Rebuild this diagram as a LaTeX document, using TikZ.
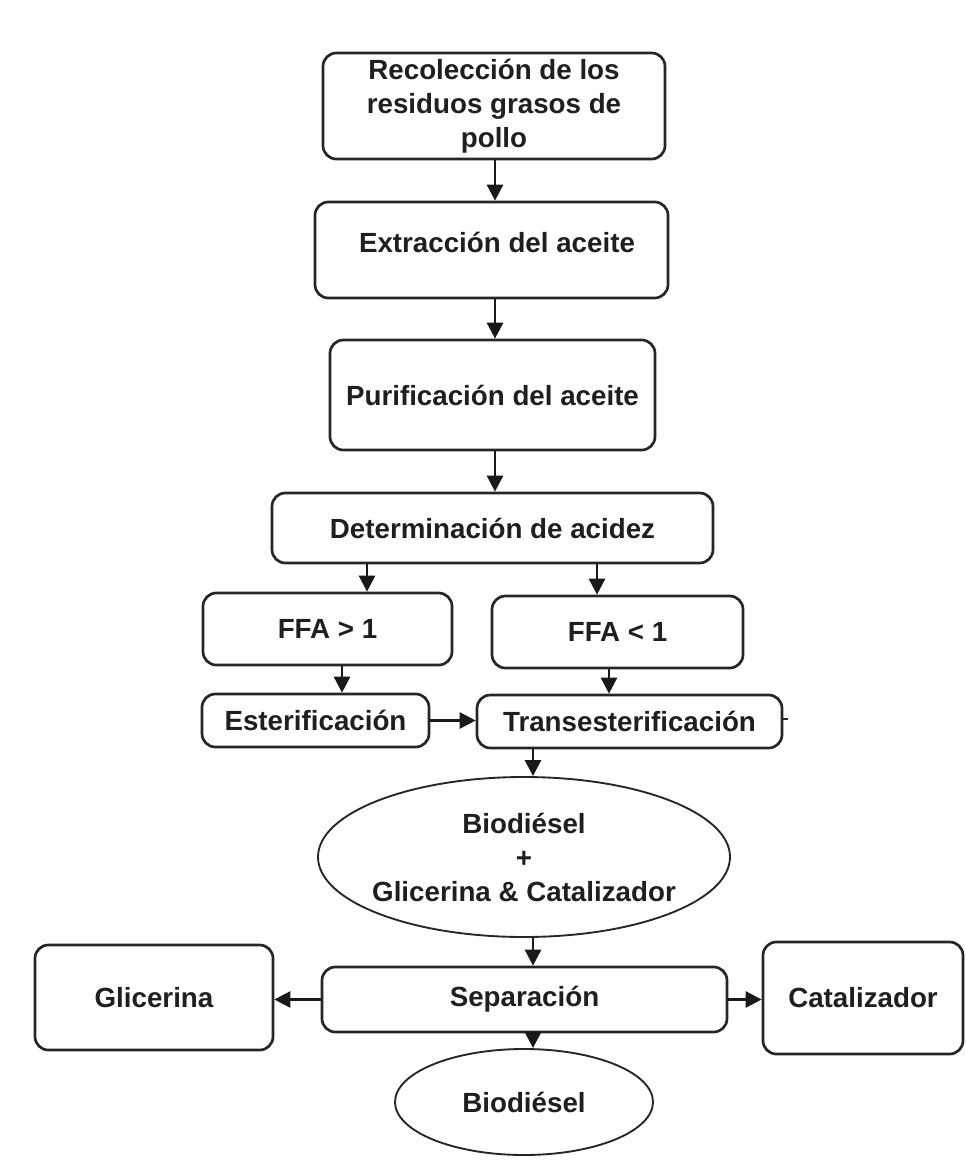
\documentclass[tikz,border=0pt]{standalone}
\usepackage{fontspec}
\setmainfont{Liberation Sans}
\usetikzlibrary{shapes.geometric,arrows.meta,calc}
\begin{document}
\begin{tikzpicture}[x=0.75pt,y=-0.75pt,
  every node/.style={font=\fontsize{20.8}{25.5}\selectfont\bfseries, text=black!88,
    inner sep=0pt, align=center},
  stepbox/.style={draw=black!85, line width=2pt, rounded corners=10pt, rectangle},
  oval/.style={draw=black!85, line width=1.4pt, ellipse},
  flow/.style={draw=black!90, line width=2pt, -{Triangle[length=12pt,width=12pt]}},
]
\useasboundingbox (0,0) rectangle (965,1169);
\fill[white] (0,0) rectangle (965,1169);

% vertical guide lines for the connectors
\coordinate (spine) at (495,0);
\coordinate (dropL) at (367,0);
\coordinate (dropR) at (597,0);
\coordinate (feedL) at (342,0);
\coordinate (feedR) at (609,0);
\coordinate (core)  at (533,0);
\coordinate (stub)  at (788,719);

% process steps
\node[stepbox, minimum width=256.5pt, minimum height=79.5pt] (recol) at (494,106)
  {Recolección de los\\residuos grasos de\\pollo};
\node[stepbox, minimum width=264.75pt, minimum height=72pt] (extr) at (491.5,250) {};
\node (extrtxt) at (497,242) {Extracción del aceite};
\node[stepbox, minimum width=243.75pt, minimum height=82.5pt] (purif) at (492.5,395)
  {Purificación del aceite};
\node[stepbox, minimum width=330.75pt, minimum height=52.5pt] (acid) at (492.5,528)
  {Determinación de acidez};
\node[stepbox, minimum width=186.75pt, minimum height=54pt] (ffahi) at (327.5,629)
  {FFA > 1};
\node[stepbox, minimum width=188.25pt, minimum height=54pt] (ffalo) at (617.5,632)
  {FFA < 1};
\node[stepbox, minimum width=170.25pt, minimum height=39.75pt] (ester) at (315.5,720.5)
  {Esterificación};
\node[stepbox, minimum width=228.75pt, minimum height=39.75pt] (trans) at (629.5,721.5)
  {Transesterificación};
\node[oval, inner xsep=-10pt, minimum width=309pt, minimum height=120pt] (bmix) at (524,857)
  {Biodiésel\\+\\Glicerina \& Catalizador};
\node[stepbox, minimum width=303.75pt, minimum height=48.75pt] (sep) at (524.5,999.5)
  {Separación};
\node[stepbox, minimum width=178.5pt, minimum height=78.75pt] (glic) at (154,997.5)
  {Glicerina};
\node[stepbox, minimum width=150pt, minimum height=84pt] (cata) at (863,998)
  {Catalizador};
\node[oval, minimum width=193.5pt, minimum height=79.5pt] (bio) at (524,1102)
  {Biodiésel};

% connectors
\draw[flow] (recol.south -| spine) -- (extr.north -| spine);
\draw[flow] (extr.south -| spine) -- (purif.north -| spine);
\draw[flow] (purif.south -| spine) -- (acid.north -| spine);
\draw[flow] (acid.south -| dropL) -- (ffahi.north -| dropL);
\draw[flow] (acid.south -| dropR) -- (ffalo.north -| dropR);
\draw[flow] (ffahi.south -| feedL) -- (ester.north -| feedL);
\draw[flow] (ffalo.south -| feedR) -- (trans.north -| feedR);
\draw[flow] (ester.east) -- (ester.east -| trans.west);
\draw[line width=1.5pt, draw=black!85] (trans.east |- stub) -- (stub);
\draw[flow] (trans.south -| core) -- (bmix.north -| core);
\draw[flow] (bmix.south -| core) -- (sep.north -| core);
\draw[flow] (sep.south -| core) -- (bio.north -| core);
\draw[flow] (sep.west) -- (sep.west -| glic.east);
\draw[flow] (sep.east) -- (sep.east -| cata.west);
\end{tikzpicture}
\end{document}
